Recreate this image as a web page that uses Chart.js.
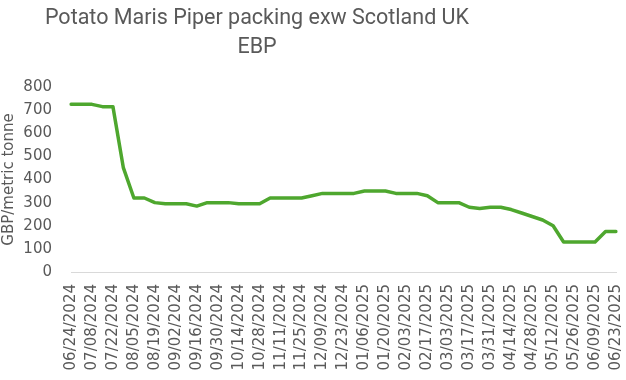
<!DOCTYPE html>
<html>
<head>
<meta charset="utf-8">
<script src="https://cdn.jsdelivr.net/npm/chart.js@4/dist/chart.umd.min.js"></script>
<style>
  html, body { margin: 0; padding: 0; background: #ffffff; }
  #wrap { position: relative; width: 626px; height: 380px; }
  #title { position: absolute; left: 0; top: 0; width: 514px; text-align: center;
           font-family: Roboto, "Liberation Sans", sans-serif; font-size: 21.5px; line-height: 29px;
           color: #595959; padding-top: 2px; }
  canvas { position: absolute; left: 0; top: 0; }
</style>
</head>
<body>
<div id="wrap">
  <canvas id="c" width="626" height="380"></canvas>
  <div id="title">Potato Maris Piper packing exw Scotland UK<br>EBP</div>
</div>
<script>
const weeks = [
  "06/24/2024","07/01/2024","07/08/2024","07/15/2024","07/22/2024","07/29/2024",
  "08/05/2024","08/12/2024","08/19/2024","08/26/2024","09/02/2024","09/09/2024",
  "09/16/2024","09/23/2024","09/30/2024","10/07/2024","10/14/2024","10/21/2024",
  "10/28/2024","11/04/2024","11/11/2024","11/18/2024","11/25/2024","12/02/2024",
  "12/09/2024","12/16/2024","12/23/2024","12/30/2024","01/06/2025","01/13/2025",
  "01/20/2025","01/27/2025","02/03/2025","02/10/2025","02/17/2025","02/24/2025",
  "03/03/2025","03/10/2025","03/17/2025","03/24/2025","03/31/2025","04/07/2025",
  "04/14/2025","04/21/2025","04/28/2025","05/05/2025","05/12/2025","05/19/2025",
  "05/26/2025","06/02/2025","06/09/2025","06/16/2025","06/23/2025"
];
const pricesGBP = [
  725, 725, 725, 715, 715, 450,
  320, 320, 300, 295, 295, 295,
  285, 300, 300, 300, 295, 295,
  295, 320, 320, 320, 320, 330,
  340, 340, 340, 340, 350, 350,
  350, 340, 340, 340, 330, 300,
  300, 300, 280, 275, 280, 280,
  270, 255, 240, 225, 200, 130,
  130, 130, 130, 175, 175
];
const yTicks = [0, 100, 200, 300, 400, 500, 600, 700, 800];
const yTitle = "GBP/metric tonne";

const tickFont = { family: "'DejaVu Sans', sans-serif", size: 15 };
const grey = "#595959";

new Chart(document.getElementById("c"), {
  type: "line",
  data: {
    labels: weeks,
    datasets: [{
      data: pricesGBP,
      borderColor: "#4EA72E",
      borderWidth: 3.5,
      borderJoinStyle: "round",
      borderCapStyle: "round",
      pointRadius: 0,
      tension: 0,
      fill: false
    }]
  },
  options: {
    responsive: false,
    animation: false,
    layout: { padding: { top: 87, right: 0, bottom: 0, left: 0 } },
    plugins: { legend: { display: false }, title: { display: false }, tooltip: { enabled: false } },
    scales: {
      x: {
        type: "category",
        offset: false,
        grid: { display: false, drawTicks: false },
        border: { display: true, color: "#d9d9d9", width: 1 },
        ticks: {
          autoSkip: false,
          maxRotation: 90,
          minRotation: 90,
          padding: 12,
          color: grey,
          font: tickFont,
          callback: function(v, i) { return i % 2 === 0 ? weeks[i] : ""; }
        },
        afterFit: function(s) { s.height = 108; s.paddingRight = 10; s.paddingLeft = 0; }
      },
      y: {
        min: yTicks[0],
        max: yTicks[yTicks.length - 1],
        grid: { display: false, drawTicks: false },
        border: { display: false },
        afterBuildTicks: function(s) { s.ticks = yTicks.map(v => ({ value: v })); },
        ticks: { color: grey, font: tickFont, padding: 19 },
        title: {
          display: true,
          text: yTitle,
          color: grey,
          font: { family: "'DejaVu Sans', sans-serif", size: 15 },
          padding: { top: 0, bottom: 0 }
        },
        afterFit: function(s) { s.width = 71; }
      }
    }
  }
});
</script>
</body>
</html>
